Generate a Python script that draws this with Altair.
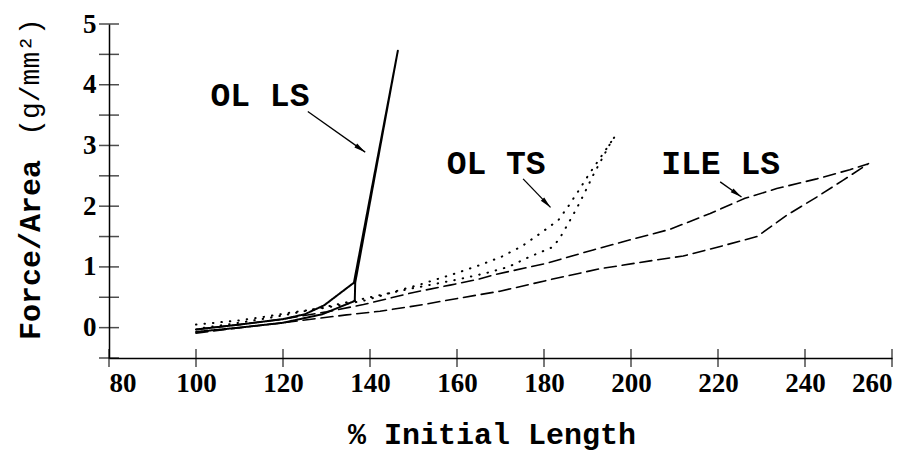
import math
import altair as alt
import pandas as pd

# ---- data ----
ol_ls_x = [100, 110, 120, 125, 129.5, 136.3, 146.4, 136.6, 136.5, 129, 120, 110, 100]
ol_ls_y = [-0.03, 0.05, 0.14, 0.22, 0.37, 0.74, 4.56, 0.74, 0.44, 0.22, 0.08, 0.0, -0.07]

ol_ts_x = [100, 110, 115, 122, 130, 139, 146, 151.5, 160, 165.3, 170.3, 174.9, 179.1, 183.3,
           185.6, 188, 190.2, 192.5, 196.3, 195.2, 191.3, 189.4, 187.5, 185.6, 184.5, 183.3,
           181.8, 176.8, 171.8, 166.8, 160, 150, 140, 131, 120, 110, 100]
ol_ts_y = [0.05, 0.12, 0.17, 0.25, 0.33, 0.45, 0.6, 0.71, 0.9, 1.03, 1.17, 1.34, 1.55, 1.77,
           2.0, 2.26, 2.51, 2.75, 3.15, 3.03, 2.51, 2.23, 1.96, 1.72, 1.58, 1.44,
           1.32, 1.17, 1.0, 0.9, 0.79, 0.65, 0.5, 0.36, 0.2, 0.08, -0.02]

ile_ls_x = [100, 110, 120, 130, 138.5, 150, 158.4, 165, 169.1, 180.6, 191.3, 200, 209, 218.2,
            226.2, 233.5, 242.7, 250.3, 254.6,
            248.8, 242.7, 235.8, 229, 221.2, 212, 204.4, 192.9, 181.4, 169.9, 158.4, 152.3,
            142.3, 134.6, 120, 110, 100]
ile_ls_y = [-0.03, 0.05, 0.14, 0.26, 0.38, 0.58, 0.70, 0.8, 0.88, 1.06, 1.28, 1.45, 1.62, 1.88,
            2.13, 2.29, 2.45, 2.6, 2.70,
            2.43, 2.15, 1.85, 1.5, 1.35, 1.18, 1.1, 0.97, 0.79, 0.60, 0.46, 0.38,
            0.27, 0.21, 0.08, 0.0, -0.09]

ann_labels = ["OL LS", "OL TS", "ILE LS"]
ann_x = [114.7, 169.0, 220.6]
ann_y = [3.82, 2.70, 2.69]
arrow_x0 = [125.7, 175.2, 220.5]
arrow_y0 = [3.56, 2.45, 2.40]
arrow_x1 = [138.9, 181.5, 225.4]
arrow_y1 = [2.89, 1.98, 2.15]

x_ticks = [80, 100, 120, 140, 160, 180, 200, 220, 240, 260]
y_labels = [0, 1, 2, 3, 4, 5]
y_ticks = [-0.5, 0, 0.5, 1, 1.5, 2, 2.5, 3, 3.5, 4, 4.5, 5]

x_title = "% Initial Length"
y_title_a = "Force/Area"
y_title_b = "(g/mm²)"

# ---- layout ----
W, H = 783, 334
XMIN, XMAX, YMIN, YMAX = 80, 260, -0.5, 5
kx = W / (XMAX - XMIN)
ky = H / (YMAX - YMIN)

xs = alt.Scale(domain=[XMIN, XMAX], nice=False, zero=False)
ys = alt.Scale(domain=[YMIN, YMAX], nice=False, zero=False)
MONO = "Liberation Mono"


def series_df(xv, yv):
    return pd.DataFrame({"x": xv, "y": yv, "o": list(range(len(xv)))})


def line_layer(df, dash, width):
    return alt.Chart(df).mark_line(
        color="black", strokeWidth=width, strokeDash=dash, strokeCap="round",
        strokeJoin="round", clip=False
    ).encode(
        x=alt.X("x:Q", scale=xs, axis=alt.Axis(values=x_ticks, labelPadding=12, title=None,
                                               format="d")),
        y=alt.Y("y:Q", scale=ys, axis=alt.Axis(values=y_labels, labelPadding=13, title=None,
                                               format="d")),
        order="o:Q",
    )


solid = line_layer(series_df(ol_ls_x, ol_ls_y), [1, 0], 2)
dotted = line_layer(series_df(ol_ts_x, ol_ts_y), [0.5, 8], 2)
dashed = line_layer(series_df(ile_ls_x, ile_ls_y), [12, 6], 1.6)

xt = alt.Chart(pd.DataFrame({"x": x_ticks, "y": [YMIN] * len(x_ticks)})).mark_tick(
    orient="vertical", size=18, thickness=1.5, color="black"
).encode(x=alt.X("x:Q", scale=xs), y=alt.Y("y:Q", scale=ys))
yt = alt.Chart(pd.DataFrame({"x": [XMIN] * len(y_ticks), "y": y_ticks})).mark_tick(
    orient="horizontal", size=20, thickness=1.5, color="black"
).encode(x=alt.X("x:Q", scale=xs), y=alt.Y("y:Q", scale=ys))

ann = pd.DataFrame({"t": ann_labels, "x": ann_x, "y": ann_y,
                    "x0": arrow_x0, "y0": arrow_y0, "x1": arrow_x1, "y1": arrow_y1})
ann["ang"] = [
    math.degrees(math.atan2((a1 - a0) * kx, (b1 - b0) * ky)) % 360
    for a0, b0, a1, b1 in zip(arrow_x0, arrow_y0, arrow_x1, arrow_y1)
]

ann_text = alt.Chart(ann).mark_text(
    font=MONO, fontWeight="bold", fontSize=33, color="black", align="center", baseline="middle"
).encode(x=alt.X("x:Q", scale=xs), y=alt.Y("y:Q", scale=ys), text="t:N")
ann_rule = alt.Chart(ann).mark_rule(color="black", strokeWidth=1.3).encode(
    x=alt.X("x0:Q", scale=xs), y=alt.Y("y0:Q", scale=ys), x2="x1:Q", y2="y1:Q")
ann_head = alt.Chart(ann).mark_point(
    shape="M0,0L0.45,2.2L-0.45,2.2Z", filled=True, size=110, color="black", opacity=1
).encode(x=alt.X("x1:Q", scale=xs), y=alt.Y("y1:Q", scale=ys),
         angle=alt.Angle("ang:Q", scale=None))

t_df = pd.DataFrame({"t": [x_title]})
xtitle = alt.Chart(t_df).mark_text(
    font=MONO, fontWeight="bold", fontSize=30, color="black", align="center", baseline="alphabetic"
).encode(text="t:N", x=alt.value(383), y=alt.value(420))
ytitle_a = alt.Chart(pd.DataFrame({"t": [y_title_a]})).mark_text(
    font=MONO, fontWeight="bold", fontSize=30, color="black", align="center",
    baseline="middle", angle=270
).encode(text="t:N", x=alt.value(-78), y=alt.value(226))
ytitle_b = alt.Chart(pd.DataFrame({"t": [y_title_b]})).mark_text(
    font=MONO, fontWeight="normal", fontSize=28, color="black", align="center",
    baseline="middle", angle=270
).encode(text="t:N", x=alt.value(-78), y=alt.value(53))

chart = alt.layer(
    xt, yt, dashed, dotted, solid, ann_rule, ann_head, ann_text, xtitle, ytitle_a, ytitle_b
).properties(
    width=W, height=H, autosize="none",
    padding={"left": 101, "top": 16, "right": 10, "bottom": 95},
    background="white",
).configure_view(stroke=None).configure_axis(
    grid=False, ticks=False, domainColor="black", domainWidth=1.5,
    labelFont="Liberation Serif", labelFontSize=27, labelFontWeight="bold", labelColor="black",
)

chart.save("out.html", embed_options={"renderer": "svg", "actions": False})
